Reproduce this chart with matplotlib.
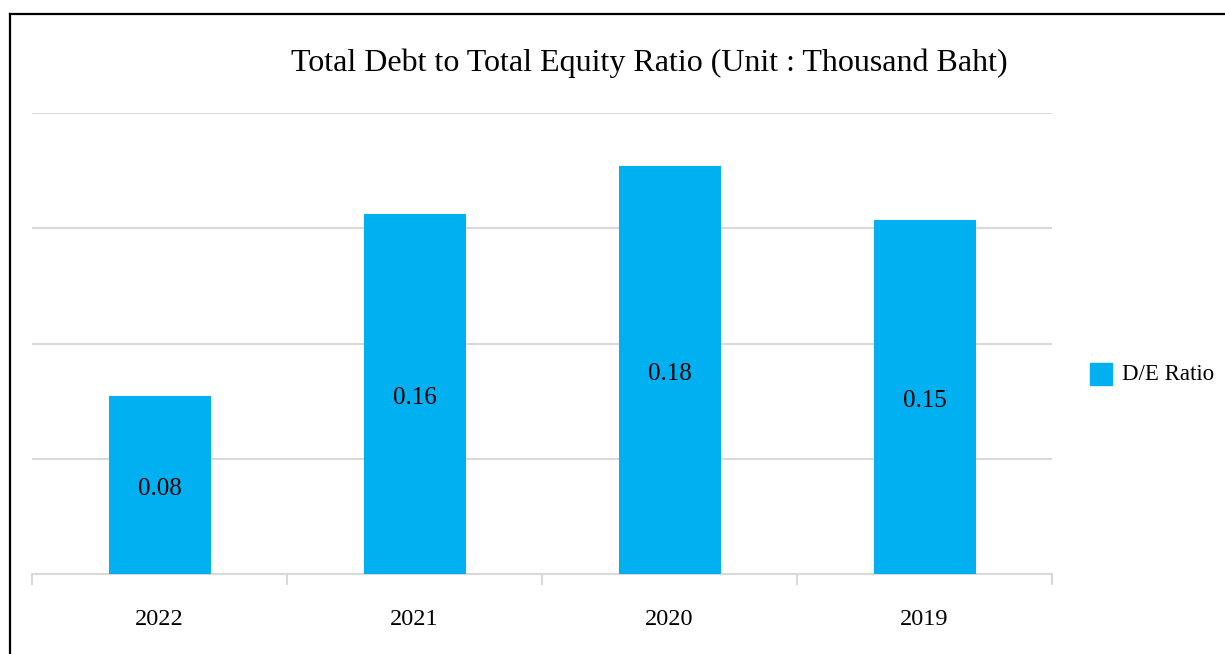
import matplotlib.pyplot as plt
from matplotlib.lines import Line2D
from matplotlib.patches import Rectangle

years = ["2022", "2021", "2020", "2019"]
de_ratio = [0.0772, 0.1562, 0.1770, 0.1536]
bar_labels = ["0.08", "0.16", "0.18", "0.15"]

BAR_COLOR = "#00B0F0"
GRID_COLOR = "#d9d9d9"
SERIF = ["Liberation Serif", "DejaVu Serif"]

plt.rcParams["font.family"] = SERIF

fig = plt.figure(figsize=(12.25, 6.54), dpi=100)
ax = fig.add_axes([32 / 1225, 1 - 574 / 654, (1052 - 32) / 1225, (574 - 113) / 654])

x = list(range(len(years)))
bars = ax.bar(x, de_ratio, width=0.4, color=BAR_COLOR, zorder=3)
for rect, lab in zip(bars, bar_labels):
    ax.annotate(lab, (rect.get_x() + rect.get_width() / 2, rect.get_height() / 2),
                xytext=(0, -3), textcoords="offset points",
                ha="center", va="center", fontsize=18, color="black", zorder=4)

ax.set_xlim(-0.5, len(years) - 0.5)
ax.set_ylim(0, 0.2)
ax.set_yticks([0.05, 0.10, 0.15, 0.20])
ax.yaxis.grid(True, color=GRID_COLOR, linewidth=1.5, zorder=0)
ax.tick_params(axis="y", left=False, labelleft=False)

ax.set_xticks([i - 0.5 for i in range(len(years) + 1)])
ax.set_xticklabels([])
ax.tick_params(axis="x", which="major", length=8, width=1.5, color=GRID_COLOR)
ax.set_xticks(x, minor=True)
ax.set_xticklabels(years, minor=True, fontsize=17.5)
ax.tick_params(axis="x", which="minor", length=0, pad=25)

for side in ("top", "left", "right"):
    ax.spines[side].set_visible(False)
ax.spines["bottom"].set_color(GRID_COLOR)
ax.spines["bottom"].set_linewidth(1.5)

fig.text(649 / 1225, 1 - 63 / 654, "Total Debt to Total Equity Ratio (Unit : Thousand Baht)",
         ha="center", va="center", fontsize=23)

# legend drawn by hand at the right
fig.add_artist(Rectangle((1090 / 1225, 1 - 385 / 654), 22 / 1225, 22 / 654,
                         transform=fig.transFigure, color=BAR_COLOR))
fig.text(1122 / 1225, 1 - 375 / 654, "D/E Ratio", ha="left", va="center", fontsize=16.5)

# outer frame (top and left edges visible)
fig.add_artist(Line2D([9.5 / 1225, 1.0], [1 - 13.5 / 654] * 2, color="black", linewidth=1.6,
                      transform=fig.transFigure))
fig.add_artist(Line2D([9.5 / 1225] * 2, [0.0, 1 - 13.5 / 654], color="black", linewidth=1.6,
                      transform=fig.transFigure))

fig.savefig("out.png", dpi=100)
